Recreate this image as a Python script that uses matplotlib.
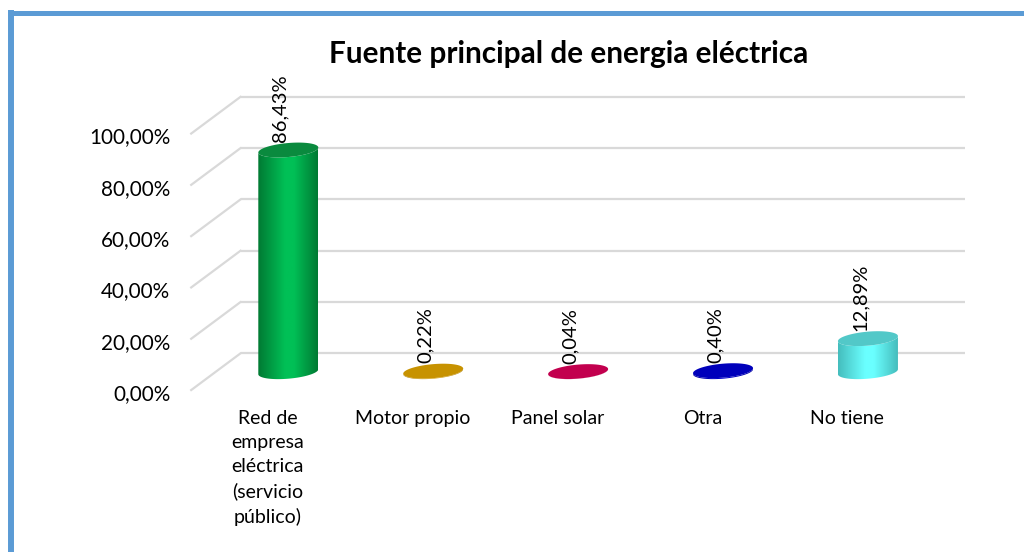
import numpy as np
import matplotlib
matplotlib.use("Agg")
import matplotlib.pyplot as plt
from matplotlib.patches import Polygon
from matplotlib.lines import Line2D
from matplotlib.colors import LinearSegmentedColormap

plt.rcParams['font.family'] = ['Lato', 'DejaVu Sans']

# ---- data ----
categories = ["Red de\nempresa\neléctrica\n(servicio\npúblico)", "Motor propio",
              "Panel solar", "Otra", "No tiene"]
values = [86.43, 0.22, 0.04, 0.40, 12.89]
y_ticks = [0, 20, 40, 60, 80, 100]
y_tick_labels = ["0,00%", "20,00%", "40,00%", "60,00%", "80,00%", "100,00%"]
title = "Fuente principal de energia eléctrica"

# colours per bar: (edge, centre, top)
bar_colors = [("#007a33", "#00c056", "#0a8a3e"),
              ("#a87a00", "#d49c00", "#c79200"),
              ("#a80040", "#cc0055", "#c2004e"),
              ("#0000a0", "#0000cc", "#0000bb"),
              ("#45bdbd", "#6affff", "#52c8c8")]

W, H, DPI = 1024, 552, 100
fig = plt.figure(figsize=(W / DPI, H / DPI), dpi=DPI)
fig.patch.set_facecolor("white")

# mid-depth plane geometry (pixels): x=-0.5 -> 215.85, x=4.5 -> 940.4 ; y=0 -> 371.7, y=100 -> 115.2
XL = (-0.5, 4.5)
x0_px, x1_px = 215.85, 940.4
px_x = (x1_px - x0_px) / (XL[1] - XL[0])
y0_px, y100_px = 371.7, 115.2
px_y = (y0_px - y100_px) / 100.0
YL = (-20, 110)
bot_px = y0_px - YL[0] * px_y * -1 if False else y0_px + (-YL[0]) * px_y
top_px = y0_px - YL[1] * px_y
ax = fig.add_axes([x0_px / W, (H - bot_px) / H, (x1_px - x0_px) / W, (bot_px - top_px) / H])
ax.set_axis_off()

# depth vector (half depth) in data units
dx = 24.65 / px_x
dy = 18.35 / px_y

grid_c = "#d9d9d9"
for t in y_ticks:
    ax.plot([XL[0] + dx, XL[1] + dx], [t + dy, t + dy], color=grid_c, lw=1.6,
            clip_on=False, zorder=1, solid_capstyle="butt")
    ax.plot([XL[0] + dx, XL[0] - dx], [t + dy, t - dy], color=grid_c, lw=1.6,
            clip_on=False, zorder=1)

for t, lab in zip(y_ticks, y_tick_labels):
    ax.annotate(lab, xy=(XL[0] - dx, t - dy), xytext=(-21, -4), textcoords="offset pixels",
                ha="right", va="center", fontsize=14.9, color="black", annotation_clip=False)

for i, lab in enumerate(categories):
    ax.annotate(lab, xy=(i - dx, -dy), xytext=(4, -20), textcoords="offset pixels",
                ha="center", va="top", fontsize=14, color="black", linespacing=1.5,
                annotation_clip=False)

# cylinders
half_w = 30.0 / px_x
b = 7.0 / px_y
k = 2.5 / px_y
tt = np.linspace(0, 2 * np.pi, 121)


def ell(cx, cy):
    return np.column_stack([cx + half_w * np.cos(tt), cy + b * np.sin(tt) + k * np.cos(tt)])


tl = np.linspace(np.pi, 2 * np.pi, 61)
for i, (v, (ce, cc, ctop)) in enumerate(zip(values, bar_colors)):
    bottom = np.column_stack([i + half_w * np.cos(tl), 0 + b * np.sin(tl) + k * np.cos(tl)])
    top = np.column_stack([i + half_w * np.cos(tl[::-1]), v + b * np.sin(tl[::-1]) + k * np.cos(tl[::-1])])
    body = np.vstack([bottom, top])
    poly = Polygon(body, closed=True, facecolor="none", edgecolor="none", zorder=3)
    ax.add_patch(poly)
    cmap = LinearSegmentedColormap.from_list("c%d" % i, [(0, ce), (0.45, cc), (0.6, cc), (1, ce)])
    grad = np.linspace(0, 1, 128)[None, :]
    im = ax.imshow(grad, cmap=cmap, aspect="auto", interpolation="bilinear",
                   extent=(i - half_w, i + half_w, -b - k, v + b + k), zorder=3)
    im.set_clip_path(poly)
    ax.add_patch(Polygon(ell(i, v), closed=True, facecolor=ctop, edgecolor="none", zorder=4))
    txt = ("%.2f%%" % v).replace(".", ",")
    ax.annotate(txt, xy=(i, v + b), xytext=(-8, 1), textcoords="offset pixels",
                rotation=90, ha="center", va="bottom", fontsize=14.5, color="black",
                annotation_clip=False, zorder=5)

ax.set_xlim(*XL)
ax.set_ylim(*YL)

fig.text(569 / W, (H - 63.3) / H, title, ha="center", va="baseline",
         fontsize=21.4, fontweight="bold", color="black")

# border (blue frame, top and left)
bc = "#5b9bd5"
fig.add_artist(Line2D([8 / W, 1.0], [(H - 12.5) / H] * 2, color=bc, lw=3.6,
                      transform=fig.transFigure, solid_capstyle="butt"))
fig.add_artist(Line2D([11 / W] * 2, [0, (H - 10) / H], color=bc, lw=4.3,
                      transform=fig.transFigure, solid_capstyle="butt"))

fig.savefig("out.png", dpi=DPI, facecolor="white")
